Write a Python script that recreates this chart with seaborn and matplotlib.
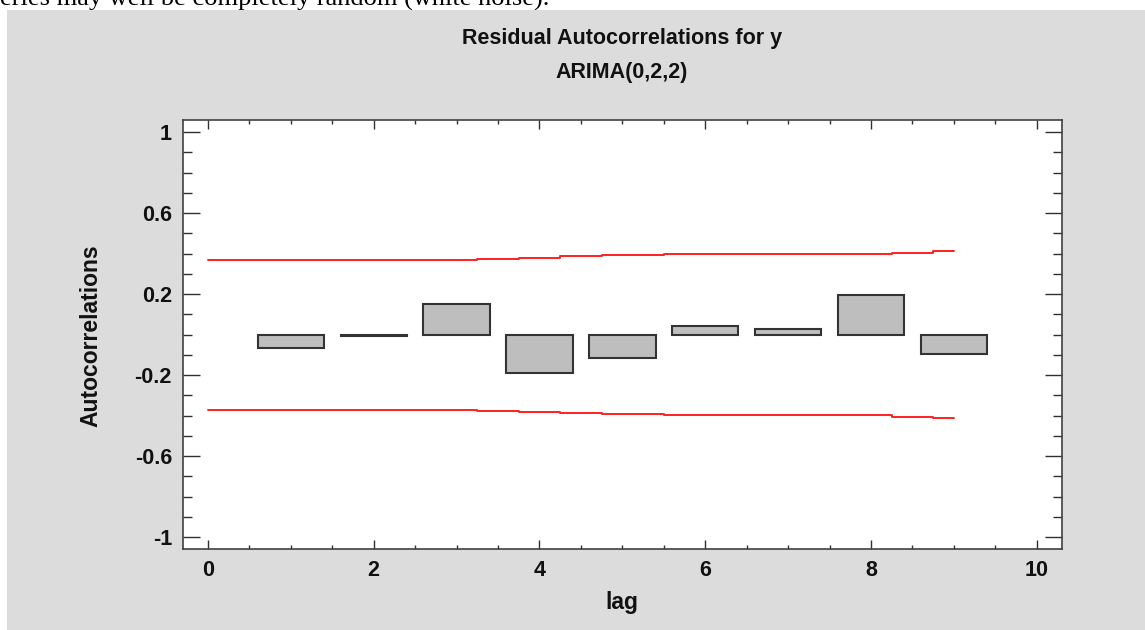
import numpy as np
import pandas as pd
import matplotlib
matplotlib.use("Agg")
import matplotlib.pyplot as plt
from matplotlib.patches import Rectangle
from matplotlib.ticker import FixedLocator, MultipleLocator
import seaborn as sns

# Datos
lags = [1, 2, 3, 4, 5, 6, 7, 8, 9]
acf = [-0.064, -0.005, 0.153, -0.189, -0.117, 0.044, 0.026, 0.194, -0.094]

# limites de probabilidad (escalonados)
limit_x = [0, 3.25, 3.75, 4.25, 4.75, 5.5, 8.25, 8.75, 9]
limit_up = [0.370, 0.375, 0.380, 0.386, 0.391, 0.399, 0.405, 0.411, 0.411]
limit_low = [-v for v in limit_up]

ytick_vals = [-1, -0.6, -0.2, 0.2, 0.6, 1]
ytick_labels = ['-1', '-0.6', '-0.2', '0.2', '0.6', '1']
xtick_vals = [0, 2, 4, 6, 8, 10]

titulo = "Residual Autocorrelations for y"
subtitulo = "ARIMA(0,2,2)"
texto_arriba = "eries may well be completely random (white noise)."

sns.set_style("ticks")
plt.rcParams['font.family'] = ['Liberation Sans', 'DejaVu Sans']

W, H = 1145, 630
fig = plt.figure(figsize=(W / 100, H / 100), dpi=100, facecolor='white')

# panel gris de fondo
fig.patches.append(Rectangle((7 / W, 0), 1 - 7 / W, 1 - 10 / H, transform=fig.transFigure,
                             facecolor='#DCDCDC', edgecolor='none', zorder=-1))
fig.text(0, 1 - 6 / H, texto_arriba, ha='left', va='baseline', fontsize=19,
         family=['Liberation Serif', 'DejaVu Serif'], color='black', zorder=-2)

ax = fig.add_axes([183 / W, 1 - 549.3 / H, (1061.7 - 183) / W, (549.3 - 120) / H])
ax.set_facecolor('white')

df = pd.DataFrame({'lag': lags, 'acf': acf})
sns.barplot(data=df, x='lag', y='acf', native_scale=True, width=0.8, color='#BEBEBE',
            saturation=1, edgecolor='#333333', linewidth=1.5, ax=ax, zorder=2)

sns.lineplot(x=limit_x, y=limit_up, drawstyle='steps-post', color='#FF2020', lw=1.4, ax=ax, zorder=3)
sns.lineplot(x=limit_x, y=limit_low, drawstyle='steps-post', color='#FF2020', lw=1.4, ax=ax, zorder=3)

ax.set_xlim(-0.3, 10.3)
ax.set_ylim(-1.06, 1.06)
ax.set_xlabel('')
ax.set_ylabel('')

ax.xaxis.set_major_locator(FixedLocator(xtick_vals))
ax.xaxis.set_minor_locator(MultipleLocator(0.5))
ax.set_xticklabels([str(v) for v in xtick_vals])
ax.yaxis.set_major_locator(FixedLocator(ytick_vals))
ax.yaxis.set_minor_locator(MultipleLocator(0.1))
ax.set_yticklabels(ytick_labels)

for s in ax.spines.values():
    s.set_visible(True)
    s.set_color('#404040')
    s.set_linewidth(1.2)

ax.tick_params(axis='both', which='both', direction='in', top=True, right=True,
               color='#303030', width=1.0)
ax.tick_params(axis='x', which='major', length=6.5, pad=8)
ax.tick_params(axis='x', which='minor', length=3)
ax.tick_params(axis='y', which='major', length=12.5, pad=8)
ax.tick_params(axis='y', which='minor', length=6.5)
for lab in ax.get_xticklabels() + ax.get_yticklabels():
    lab.set_fontsize(15.5)
    lab.set_fontweight('bold')
    lab.set_color('#111111')

# titulos y etiquetas
fig.text(621.7 / W, 1 - 44.3 / H, titulo, ha='center', va='baseline', fontsize=15.5,
         fontweight='bold', color='#111111')
fig.text(621.7 / W, 1 - 78.3 / H, subtitulo, ha='center', va='baseline', fontsize=15.5,
         fontweight='bold', color='#111111')
fig.text(90.8 / W, 1 - 335.5 / H, 'Autocorrelations', rotation=90, ha='center', va='center',
         fontsize=16.5, fontweight='bold', color='#111111')
fig.text(621.7 / W, 1 - 609.3 / H, 'lag', ha='center', va='baseline', fontsize=16.5,
         fontweight='bold', color='#111111')

fig.savefig('out.png', dpi=100, facecolor='white')
